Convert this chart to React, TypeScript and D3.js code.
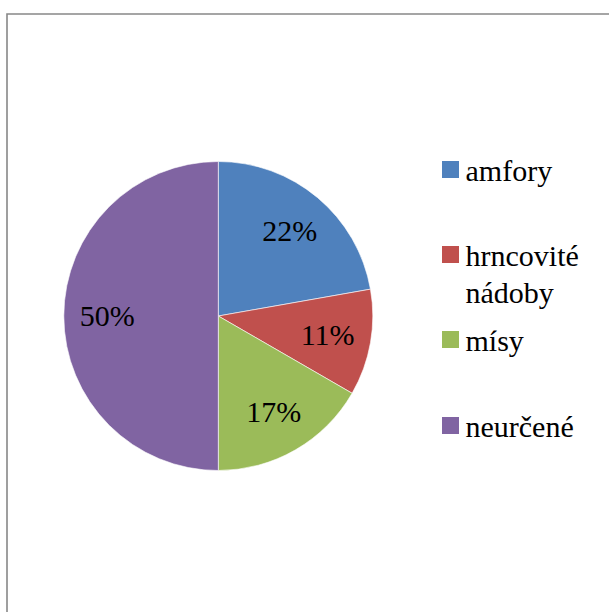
import React from "react";
import * as d3 from "d3";

const categories = ["amfory", "hrncovité nádoby", "mísy", "neurčené"];
const legendLines = [["amfory"], ["hrncovité", "nádoby"], ["mísy"], ["neurčené"]];
const values = [4, 2, 3, 9];
const colors = ["#4F81BD", "#C0504D", "#9BBB59", "#8064A2"];
const legendBaselines = [181, 266, 351, 437];

const serif = '"Times New Roman", "Liberation Serif", Tinos, serif';

export default function App() {
  const cx = 218.3, cy = 316, R = 154.5;
  const total = d3.sum(values);
  const pie = d3.pie<number>().sort(null).value((d) => d)(values);
  const arc = d3.arc<d3.PieArcDatum<number>>().innerRadius(0).outerRadius(R);
  const labelArc = d3.arc<d3.PieArcDatum<number>>().innerRadius(111).outerRadius(111);
  return (
    <div style={{ position: "absolute", left: 0, top: 0, width: 609, height: 612, fontFamily: serif }}>
      <svg width={609} height={612} style={{ display: "block", fontFamily: serif }}>
        <path d="M7,612 L7,14 L609,14" fill="none" stroke="#888" strokeWidth={1.6} />
        <g transform={`translate(${cx},${cy})`}>
          {pie.map((p, i) => (
            <path key={i} d={arc(p) || ""} fill={colors[i]} stroke="#fff" strokeWidth={0.6} />
          ))}
        </g>
        {pie.map((p, i) => {
          const [x, y] = labelArc.centroid(p);
          return (
            <text key={"l" + i} x={cx + x} y={cy + y + 10} fontSize={30} textAnchor="middle" fontFamily="Times New Roman" style={{ fontFamily: serif }}>
              {Math.round((values[i] / total) * 100)}%
            </text>
          );
        })}
        {categories.map((c, i) => (
          <rect key={"s" + c} x={442} y={legendBaselines[i] - 20} width={17} height={17} fill={colors[i]} />
        ))}
        {legendLines.map((lines, i) =>
          lines.map((ln, j) => (
            <text key={"t" + i + j} x={465.5} y={legendBaselines[i] + j * 37} fontSize={30} fontFamily="Times New Roman" style={{ fontFamily: serif }}>
              {ln}
            </text>
          ))
        )}
      </svg>
    </div>
  );
}
